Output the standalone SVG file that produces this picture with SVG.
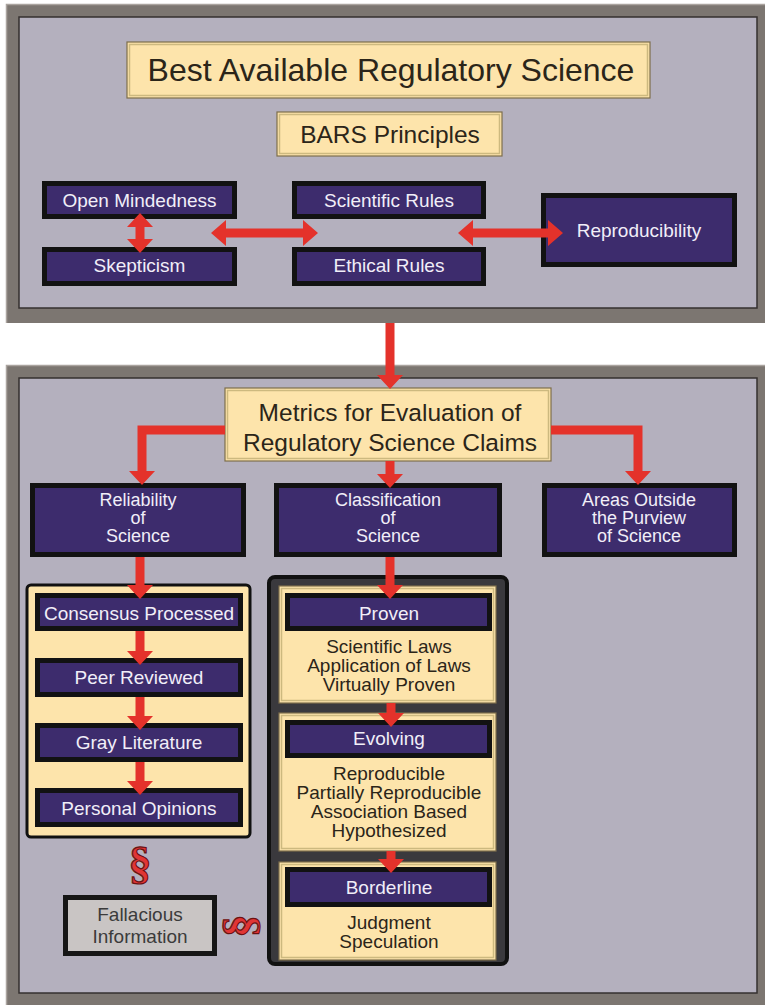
<svg xmlns="http://www.w3.org/2000/svg" width="765" height="1008" viewBox="0 0 765 1008">
  <defs>
    <style>
      .frame{fill:#7c7671;}
      .frameHi{fill:none;stroke:#aaa49f;stroke-width:1.5;}
      .panel{fill:#b4b0be;stroke:#35312f;stroke-width:1.5;}
      .ybox{fill:#fde4ab;stroke:#7d6e4b;stroke-width:1.2;}
      .ybev{fill:none;stroke:#cdb97f;stroke-width:1.5;}
      .nbox{fill:#3d2c6d;stroke:#121212;stroke-width:5;}
      .gbox{fill:#c9c5c4;stroke:#161616;stroke-width:5;}
      .t{font-family:"Liberation Sans",Arial,sans-serif;text-anchor:middle;font-size:19px;}
      .t.s{font-size:18px;}
      .t.big{font-size:32px;}
      .t.mid{font-size:24.5px;}
      .w{fill:#f1eef8;}
      .d{fill:#2b2519;}
      .g{fill:#3b3b3b;}
      .arrow{fill:#e4322b;}
      .sect{font-family:"Liberation Serif","Times New Roman",serif;font-weight:bold;font-size:46px;text-anchor:middle;fill:#e03535;stroke:#6b1212;stroke-width:1.2;}
    </style>
  </defs>

  <rect x="0" y="0" width="765" height="1008" fill="#ffffff"/>

  <!-- upper panel: principles -->
  <g id="panel-principles">
    <rect class="frame" x="6" y="4" width="765" height="319"/>
    <path class="frameHi" d="M6.5 323 V4.5 H765"/>
    <rect class="panel" x="19" y="17" width="738" height="291"/>
  </g>

  <!-- lower panel: metrics -->
  <g id="panel-metrics">
    <rect class="frame" x="6" y="365" width="765" height="640"/>
    <path class="frameHi" d="M6.5 1005 V365.5 H765"/>
    <rect class="panel" x="19" y="378" width="738" height="615"/>
  </g>

  <g id="title">
    <rect class="ybox" x="127" y="42" width="523" height="56"/>
    <rect class="ybev" x="129.5" y="44.5" width="518" height="51"/>
    <text class="t big d" x="391" y="81">Best Available Regulatory Science</text>
  </g>

  <g id="bars-principles">
    <rect class="ybox" x="277" y="112" width="225" height="44"/>
    <rect class="ybev" x="279.5" y="114.5" width="220" height="39"/>
    <text class="t mid d" x="390" y="143">BARS Principles</text>
  </g>

  <g id="open-mindedness">
    <rect class="nbox" x="44.5" y="183.5" width="190" height="33"/>
    <text class="t w" x="139.5" y="207">Open Mindedness</text>
  </g>
  <g id="skepticism">
    <rect class="nbox" x="44.5" y="249.5" width="190" height="34"/>
    <text class="t w" x="139.5" y="272">Skepticism</text>
  </g>
  <g id="scientific-rules">
    <rect class="nbox" x="294.5" y="183.5" width="189" height="33"/>
    <text class="t w" x="389" y="207">Scientific Rules</text>
  </g>
  <g id="ethical-rules">
    <rect class="nbox" x="294.5" y="249.5" width="189" height="34"/>
    <text class="t w" x="389" y="272">Ethical Rules</text>
  </g>
  <g id="reproducibility">
    <rect class="nbox" x="543.5" y="195.5" width="191" height="69"/>
    <text class="t w" x="639" y="236.5">Reproducibility</text>
  </g>

  <g id="metrics">
    <rect class="ybox" x="225" y="388" width="326" height="73"/>
    <rect class="ybev" x="227.5" y="390.5" width="321" height="68"/>
    <text class="t mid d" x="390" y="421">Metrics for Evaluation of</text>
    <text class="t mid d" x="390" y="451">Regulatory Science Claims</text>
  </g>

  <g id="reliability">
    <rect class="nbox" x="32.5" y="485.5" width="211" height="69"/>
    <text class="t s w" x="138" y="506">Reliability</text>
    <text class="t s w" x="138" y="524">of</text>
    <text class="t s w" x="138" y="542">Science</text>
  </g>
  <g id="classification">
    <rect class="nbox" x="276.5" y="485.5" width="223" height="69"/>
    <text class="t s w" x="388" y="506">Classification</text>
    <text class="t s w" x="388" y="524">of</text>
    <text class="t s w" x="388" y="542">Science</text>
  </g>
  <g id="outside-purview">
    <rect class="nbox" x="544.5" y="485.5" width="190" height="69"/>
    <text class="t s w" x="639" y="506">Areas Outside</text>
    <text class="t s w" x="639" y="524">the Purview</text>
    <text class="t s w" x="639" y="542">of Science</text>
  </g>

  <!-- reliability ladder -->
  <g id="reliability-list">
    <rect x="27" y="585" width="223" height="252" rx="4" fill="#fde4ab" stroke="#111111" stroke-width="3"/>
  </g>
  <g id="consensus-processed">
    <rect class="nbox" x="37.5" y="595.5" width="203" height="33"/>
    <text class="t w" x="139" y="620">Consensus Processed</text>
  </g>
  <g id="peer-reviewed">
    <rect class="nbox" x="37.5" y="660.5" width="203" height="34"/>
    <text class="t w" x="139" y="684">Peer Reviewed</text>
  </g>
  <g id="gray-literature">
    <rect class="nbox" x="37.5" y="725.5" width="203" height="34"/>
    <text class="t w" x="139" y="749">Gray Literature</text>
  </g>
  <g id="personal-opinions">
    <rect class="nbox" x="37.5" y="790.5" width="203" height="34"/>
    <text class="t w" x="139" y="814.5">Personal Opinions</text>
  </g>

  <g id="fallacious-information">
    <rect class="gbox" x="65.5" y="897.5" width="149" height="56"/>
    <text class="t g" x="140" y="921">Fallacious</text>
    <text class="t g" x="140" y="943">Information</text>
  </g>

  <g id="section-marks">
    <text class="sect" x="140" y="878">§</text>
    <g transform="translate(243,926) rotate(-90)">
      <text class="sect" x="0" y="11">§</text>
    </g>
  </g>

  <!-- classification ladder -->
  <g id="classification-list">
    <rect x="269" y="577" width="238" height="387" rx="6" fill="#3a393d" stroke="#111111" stroke-width="4"/>
  </g>
  <g id="proven">
    <rect class="ybox" x="279" y="586" width="217" height="117"/>
    <rect class="ybev" x="281.5" y="588.5" width="212" height="112"/>
    <rect class="nbox" x="287.5" y="595.5" width="202" height="33"/>
    <text class="t w" x="389" y="620">Proven</text>
    <text class="t d" x="389" y="653">Scientific Laws</text>
    <text class="t d" x="389" y="672">Application of Laws</text>
    <text class="t d" x="389" y="691">Virtually Proven</text>
  </g>
  <g id="evolving">
    <rect class="ybox" x="279" y="713" width="217" height="138"/>
    <rect class="ybev" x="281.5" y="715.5" width="212" height="133"/>
    <rect class="nbox" x="287.5" y="722.5" width="202" height="33"/>
    <text class="t w" x="389" y="745">Evolving</text>
    <text class="t d" x="389" y="780">Reproducible</text>
    <text class="t d" x="389" y="799">Partially Reproducible</text>
    <text class="t d" x="389" y="818">Association Based</text>
    <text class="t d" x="389" y="837">Hypothesized</text>
  </g>
  <g id="borderline">
    <rect class="ybox" x="279" y="862" width="217" height="98"/>
    <rect class="ybev" x="281.5" y="864.5" width="212" height="93"/>
    <rect class="nbox" x="287.5" y="869.5" width="202" height="35"/>
    <text class="t w" x="389" y="894">Borderline</text>
    <text class="t d" x="389" y="929">Judgment</text>
    <text class="t d" x="389" y="948">Speculation</text>
  </g>

  <!-- connectors -->
  <g id="connectors" class="arrow">
    <polygon points="140,213 153,227 144.5,227 144.5,239 153,239 140,253 127,239 135.5,239 135.5,227 127,227"/>
    <polygon points="211,233 226,220 226,228.5 303,228.5 303,220 318,233 303,246 303,237.5 226,237.5 226,246"/>
    <polygon points="458,233 473,220 473,228.5 548,228.5 548,220 563,233 548,246 548,237.5 473,237.5 473,246"/>
    <polygon points="385.5,323 394.5,323 394.5,375 403,375 390,389 377,375 385.5,375"/>
    <path d="M225,425.5 H137.5 V471 H129 L142,485 L155,471 H146.5 V434.5 H225 Z"/>
    <path d="M551,425.5 H642.5 V471 H651 L638,485 L625,471 H633.5 V434.5 H551 Z"/>
    <polygon points="385.5,461 394.5,461 394.5,474 403,474 390,488 377,474 385.5,474"/>
    <polygon points="135.5,557 144.5,557 144.5,585 153,585 140,599 127,585 135.5,585"/>
    <polygon points="135.5,631 144.5,631 144.5,651 153,651 140,665 127,651 135.5,651"/>
    <polygon points="135.5,697 144.5,697 144.5,716 153,716 140,730 127,716 135.5,716"/>
    <polygon points="135.5,762 144.5,762 144.5,781 153,781 140,795 127,781 135.5,781"/>
    <polygon points="385.5,557 394.5,557 394.5,585 403,585 390,599 377,585 385.5,585"/>
    <polygon points="386.5,703 395.5,703 395.5,713 404,713 391,727 378,713 386.5,713"/>
    <polygon points="386.5,851 395.5,851 395.5,859 404,859 391,873 378,859 386.5,859"/>
  </g>
</svg>
